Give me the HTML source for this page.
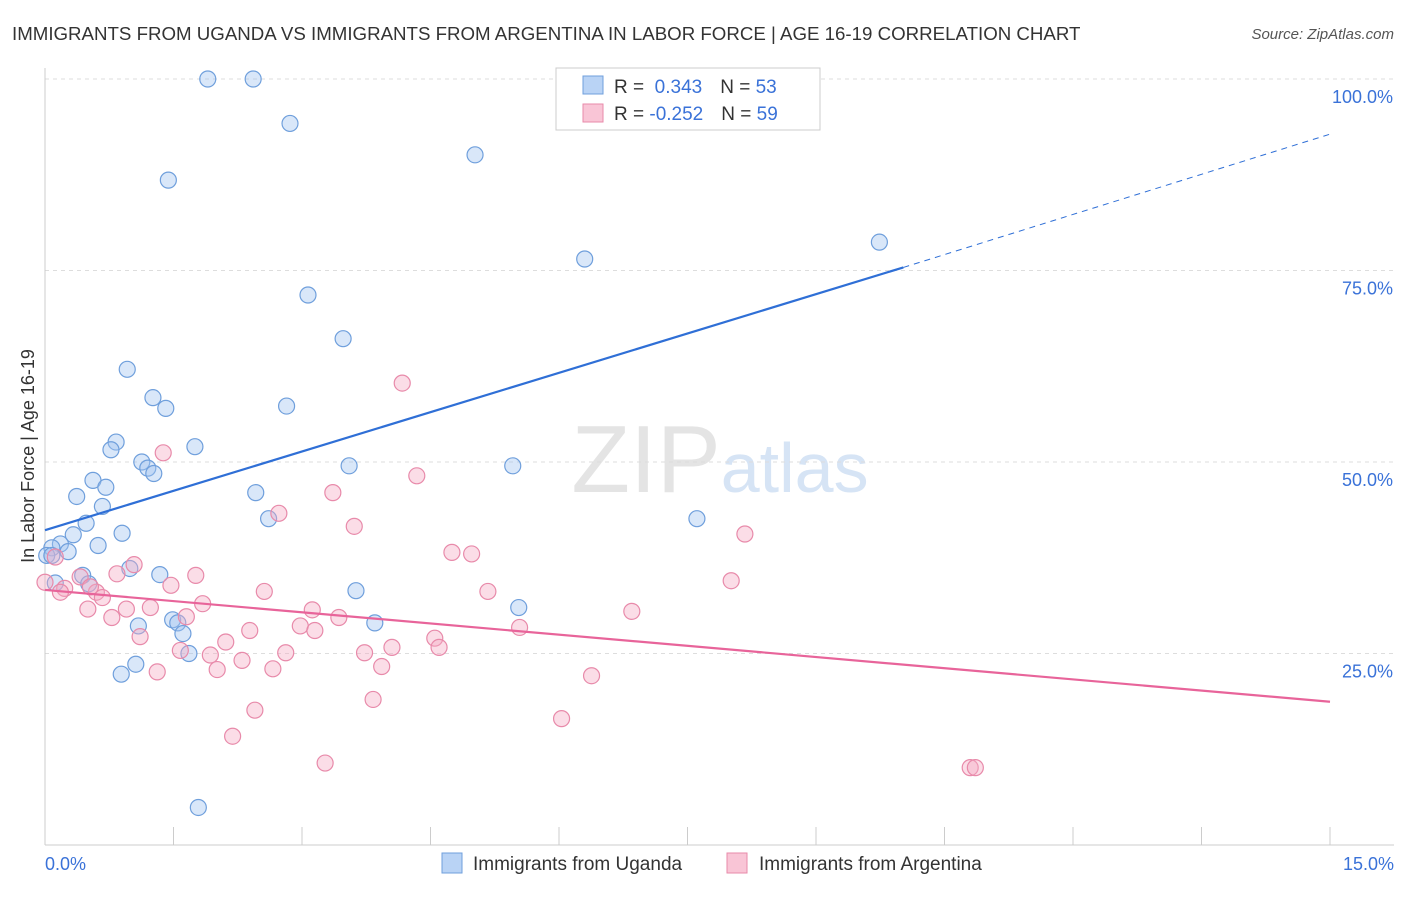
<!DOCTYPE html>
<html><head><meta charset="utf-8"><style>
body{margin:0;background:#fff;font-family:"Liberation Sans",sans-serif}
svg text{font-family:"Liberation Sans",sans-serif}
</style></head><body>
<svg id="chart" width="1406" height="892">
<text x="12" y="40" font-size="18.7" fill="#333">IMMIGRANTS FROM UGANDA VS IMMIGRANTS FROM ARGENTINA IN LABOR FORCE | AGE 16-19 CORRELATION CHART</text>
<text x="1394" y="39" font-size="15" fill="#555" text-anchor="end" font-style="italic">Source: ZipAtlas.com</text>
<text x="720" y="492" font-size="96" fill="#e4e4e4" text-anchor="middle" font-family="Liberation Serif">ZIP<tspan fill="#d6e4f5" font-family="Liberation Sans" font-size="70">atlas</tspan></text>
<g id="grid"></g><g id="axes"></g><g id="pts"></g><g id="trend"></g>
<text x="34" y="456" font-size="18" fill="#333" text-anchor="middle" transform="rotate(-90 34 456)">In Labor Force | Age 16-19</text>
<text x="45" y="870" font-size="18" fill="#3a72d8">0.0%</text>
<text x="1394" y="870" font-size="18" fill="#3a72d8" text-anchor="end">15.0%</text>
<g>
<rect x="556" y="68" width="264" height="62" fill="#fff" stroke="#ccc"/>
<rect x="583" y="76" width="20" height="18" fill="#b9d3f5" stroke="#6f9fdc"/>
<rect x="583" y="104" width="20" height="18" fill="#f9c5d6" stroke="#e88aaa"/>
<text x="614" y="93" font-size="19" fill="#333">R = <tspan fill="#3a72d8">&#160;0.343</tspan><tspan dx="18">N = </tspan><tspan fill="#3a72d8">53</tspan></text>
<text x="614" y="120" font-size="19" fill="#333">R = <tspan fill="#3a72d8">-0.252</tspan><tspan dx="18">N = </tspan><tspan fill="#3a72d8">59</tspan></text>
</g>
<g>
<rect x="442" y="853" width="20" height="20" fill="#b9d3f5" stroke="#6f9fdc"/>
<text x="473" y="870" font-size="19" fill="#333">Immigrants from Uganda</text>
<rect x="727" y="853" width="20" height="20" fill="#f9c5d6" stroke="#e88aaa"/>
<text x="759" y="870" font-size="19" fill="#333">Immigrants from Argentina</text>
</g>
</svg>
<script>
const yTicks=[25,50,75,100];
const xTicks=[0,1.5,3,4.5,6,7.5,9,10.5,12,13.5,15];
const ugandaX=[1.90,2.43,2.86,5.02,1.44,9.74,6.30,3.07,3.48,0.96,1.26,1.41,2.82,0.83,0.77,1.75,1.13,1.20,1.27,3.55,5.46,0.56,0.71,0.37,2.46,0.67,2.61,7.61,0.48,0.33,0.90,0.62,0.18,0.08,0.27,0.02,0.12,0.44,0.51,0.99,1.34,3.63,5.53,1.09,1.49,1.55,1.61,3.85,1.68,1.06,0.89,1.79,0.08];
const ugandaY=[100,100,94.2,90.1,86.8,78.7,76.5,71.8,66.1,62.1,58.4,57.0,57.3,52.6,51.6,52.0,50.0,49.2,48.5,49.5,49.5,47.6,46.7,45.5,46.0,44.2,42.6,42.6,42.0,40.5,40.7,39.1,39.3,38.8,38.3,37.8,34.2,35.2,34.1,36.1,35.3,33.2,31.0,28.6,29.4,29.0,27.6,29.0,25.0,23.6,22.3,4.9,37.8];
const argX=[4.17,1.38,4.34,3.36,2.73,3.61,8.17,4.75,4.98,0.12,1.04,0.84,1.76,0.41,8.01,1.47,2.56,5.17,0.23,0.60,0.67,1.84,0.95,1.23,3.12,0.50,1.65,6.85,3.43,0.78,2.98,3.15,5.54,2.39,1.11,4.55,2.11,4.05,3.73,4.60,1.93,2.81,1.58,2.30,3.93,2.66,2.01,1.31,6.38,3.83,2.45,6.03,2.19,3.27,10.80,10.86,0.0,0.18,0.53];
const argY=[60.3,51.2,48.2,46.0,43.3,41.6,40.6,38.2,38.0,37.6,36.6,35.4,35.2,35.0,34.5,33.9,33.1,33.1,33.5,33.0,32.3,31.5,30.8,31.0,30.7,30.8,29.8,30.5,29.7,29.7,28.6,28.0,28.4,28.0,27.2,27.0,26.5,25.8,25.1,25.8,24.8,25.1,25.4,24.1,23.3,23.0,22.9,22.6,22.1,19.0,17.6,16.5,14.2,10.7,10.1,10.1,34.3,33.0,33.7];
const X0=45,X1=1330,Y0=845,Y100=79;
const sx=v=>X0+(v/15)*(X1-X0);
const sy=v=>Y0-(v/100)*(Y0-Y100);
const NS="http://www.w3.org/2000/svg";
function mk(t,a,p){const e=document.createElementNS(NS,t);for(const k in a)e.setAttribute(k,a[k]);p.appendChild(e);return e;}
const grid=document.getElementById('grid'),axes=document.getElementById('axes'),pts=document.getElementById('pts'),trend=document.getElementById('trend');
yTicks.forEach(t=>{const l=mk('line',{x1:X0,x2:1394,y1:sy(t),y2:sy(t),stroke:'#ddd','stroke-dasharray':'4 4'},grid);


const tx=mk('text',{x:1393,y:sy(t)+24,'font-size':18,fill:'#3a72d8','text-anchor':'end'},grid);tx.textContent=t.toFixed(1)+'%';

});
const ax=mk('line',{x1:X0,x2:X0,y1:68,y2:845,stroke:'#ccc'},axes);


const bx=mk('line',{x1:X0,x2:1394,y1:845,y2:845,stroke:'#ccc'},axes);


xTicks.forEach(t=>{const l=mk('line',{x1:sx(t),x2:sx(t),y1:827,y2:845,stroke:'#ccc'},axes);

});
function dots(xs,ys,fill,stroke,name){xs.forEach((v,i)=>{const c=mk('circle',{cx:sx(v),cy:sy(ys[i]),r:8,fill:fill,stroke:stroke,'stroke-width':1.2},pts);

});}
dots(ugandaX,ugandaY,'rgba(160,196,240,0.4)','#6f9fdc','uganda-point');
dots(argX,argY,'rgba(244,170,195,0.4)','#e88aaa','argentina-point');
const b1=mk('line',{x1:sx(0),y1:sy(41.1),x2:sx(10.02),y2:sy(75.4),stroke:'#2f6fd6','stroke-width':2.2},trend);


const b2=mk('line',{x1:sx(10.02),y1:sy(75.4),x2:sx(15),y2:sy(92.8),stroke:'#2f6fd6','stroke-width':1,'stroke-dasharray':'6 5'},trend);


const p1=mk('line',{x1:sx(0),y1:sy(33.3),x2:sx(15),y2:sy(18.7),stroke:'#e8649a','stroke-width':2.2},trend);


</script>
</body></html>
